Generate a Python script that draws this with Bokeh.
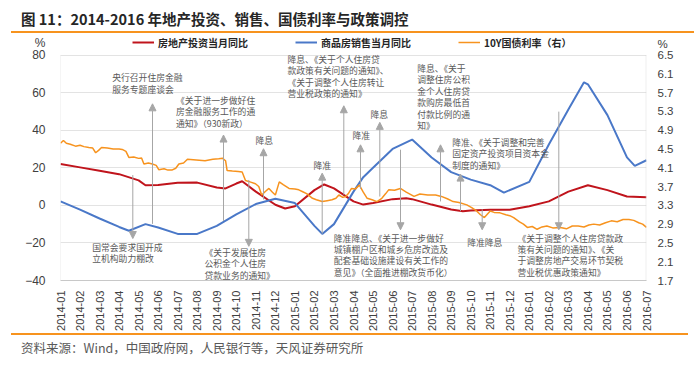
import math
from bokeh.plotting import figure
from bokeh.layouts import column
from bokeh.models import (Range1d, LinearAxis, FixedTicker, PrintfTickFormatter, Label,
                          Arrow, NormalHead, Legend, LegendItem, Div, BoxAnnotation)
from bokeh.embed import file_html
from bokeh.resources import INLINE

# ---------------- data ----------------
month_labels = ["2014-01", "2014-02", "2014-03", "2014-04", "2014-05", "2014-06", "2014-07",
                "2014-08", "2014-09", "2014-10", "2014-11", "2014-12", "2015-01", "2015-02",
                "2015-03", "2015-04", "2015-05", "2015-06", "2015-07", "2015-08", "2015-09",
                "2015-10", "2015-11", "2015-12", "2016-01", "2016-02", "2016-03", "2016-04",
                "2016-05", "2016-06", "2016-07"]

# 房地产投资当月同比 (%), x = months since 2014-01
invest_m = [0, 1, 2, 3, 4, 4.35, 5, 6, 7, 8, 8.45, 9, 9.3, 10, 11, 11.5, 12, 13, 13.5, 14, 15,
            15.5, 16, 17, 17.7, 18, 19, 20, 20.6, 21, 22, 23, 24, 25, 26, 27, 28, 29, 30]
invest_v = [22.0, 20.2, 18.4, 16.6, 13.3, 10.7, 10.8, 12.0, 12.1, 9.5, 9.0, 11.6, 12.8, 7.3, 0.3,
            -1.7, -0.5, 8.1, 11.1, 9.0, 2.1, 0.4, 1.2, 3.3, 3.8, 3.3, 0.4, -2.2, -3.1, -2.8, -2.3,
            -2.3, -0.5, 2.1, 7.3, 10.7, 8.1, 4.7, 4.3]

# 商品房销售当月同比 (%)
sales_m = [0, 1, 2, 3, 3.5, 4.35, 5, 6, 7, 8, 9, 10, 11, 12, 13, 13.4, 14, 15, 15.5, 16, 17, 18,
           19, 20, 21, 22, 22.7, 24, 25, 26, 26.8, 27, 28, 29, 29.4, 30]
sales_v = [2.1, -2.3, -7.0, -11.5, -13.5, -10.0, -11.8, -15.2, -15.2, -10.9, -4.8, 0.7, 3.5, 1.2,
           -10.9, -15.2, -10.0, 7.3, 15.0, 20.0, 30.0, 35.0, 25.5, 17.7, 13.7, 10.7, 6.8, 12.5,
           32.4, 51.0, 65.5, 64.4, 48.0, 25.5, 21.0, 24.0]

# 10Y国债利率 (%), right axis
bond_m = [0.0, 0.15, 0.3, 0.5, 0.77, 1.0, 1.2, 1.45, 1.65, 1.8, 1.95, 2.1, 2.4, 2.7, 3.0, 3.16,
          3.35, 3.5, 3.75, 4.0, 4.15, 4.27, 4.5, 4.7, 4.9, 5.03, 5.3, 5.5, 5.7, 5.9, 6.06, 6.3,
          6.5, 6.8, 7.1, 7.4, 7.8, 8.1, 8.3, 8.45, 8.53, 8.8, 9.1, 9.3, 9.47, 9.7, 9.98, 10.15,
          10.3, 10.5, 10.67, 10.85, 11.0, 11.2, 11.4, 11.7, 12.0, 12.2, 12.4, 12.6, 12.9, 13.1,
          13.4, 13.65, 13.9, 14.1, 14.25, 14.45, 14.6, 14.75, 14.9, 15.1, 15.3, 15.5, 15.7,
          15.95, 16.2, 16.45, 16.65, 16.8, 17.1, 17.4, 17.7, 18.1, 18.4, 18.8, 19.2, 19.5, 19.8,
          20.1, 20.4, 20.8, 21.05, 21.3, 21.5, 21.7, 22.0, 22.2, 22.5, 22.8, 23.0, 23.2, 23.5,
          23.7, 23.9, 24.15, 24.4, 24.65, 24.9, 25.2, 25.6, 25.9, 26.2, 26.5, 26.8, 27.05, 27.3,
          27.6, 27.9, 28.2, 28.5, 28.8, 29.1, 29.35, 29.6, 29.8, 30.0]
bond_v = [4.62, 4.68, 4.62, 4.60, 4.56, 4.58, 4.55, 4.53, 4.52, 4.42, 4.47, 4.53, 4.52, 4.50,
          4.50, 4.49, 4.45, 4.32, 4.33, 4.30, 4.31, 4.18, 4.20, 4.18, 4.15, 4.06, 4.08, 4.05,
          4.05, 4.09, 4.18, 4.20, 4.28, 4.27, 4.26, 4.25, 4.28, 4.29, 4.30, 4.25, 4.04, 4.03,
          4.02, 4.01, 3.83, 3.80, 3.76, 3.70, 3.52, 3.60, 3.66, 3.58, 3.52, 3.80, 3.74, 3.66,
          3.65, 3.63, 3.59, 3.55, 3.45, 3.42, 3.38, 3.40, 3.42, 3.45, 3.52, 3.47, 3.49, 3.56,
          3.66, 3.65, 3.73, 3.58, 3.45, 3.42, 3.38, 3.45, 3.55, 3.63, 3.62, 3.66, 3.58, 3.49,
          3.54, 3.52, 3.52, 3.49, 3.44, 3.38, 3.36, 3.31, 3.25, 3.18, 3.10, 3.04, 3.18, 3.15,
          3.14, 3.10, 3.08, 3.04, 2.95, 2.90, 2.83, 2.85, 2.79, 2.84, 2.86, 2.82, 2.83, 2.80,
          2.86, 2.86, 2.84, 2.88, 2.90, 2.88, 2.93, 2.97, 2.95, 3.00, 3.00, 2.98, 2.93, 2.90,
          2.83]

left_ticks = [-40, -20, 0, 20, 40, 60, 80]
right_ticks = [1.7, 2.1, 2.5, 2.9, 3.3, 3.7, 4.1, 4.5, 4.9, 5.3, 5.7, 6.1, 6.5]
unit_text = "%"

series_names = ["房地产投资当月同比", "商品房销售当月同比", "10Y国债利率（右）"]
title_text = "图 11：2014-2016 年地产投资、销售、国债利率与政策调控"
source_text = "资料来源：Wind，中国政府网，人民银行等，天风证券研究所"

RED = "#C0141C"
BLUE = "#4A78C8"
ORANGE = "#F7931E"
GRAY_TXT = "#595959"
ARROW_C = "#A6A6A6"
AXIS_C = "#C8C8C8"
CJK = "Noto Sans CJK SC"

# ---------------- header / footer ----------------
title_div = Div(
    text=(f'<div style="position:relative;width:683px;height:33px;margin-left:11px;'
          f'border-bottom:2px solid {ORANGE};">'
          f'<span style="position:absolute;left:10px;top:10px;white-space:nowrap;'
          f'font-family:\'{CJK}\';font-weight:bold;font-size:14.5px;line-height:18px;'
          f'color:#262626;">{title_text}</span></div>'),
    width=700, height=35, margin=(0, 0, 0, 0))

source_div = Div(
    text=(f'<div style="position:relative;width:677px;height:31px;margin-left:11px;'
          f'border-top:2px solid {ORANGE};">'
          f'<span style="position:absolute;left:10px;top:5px;white-space:nowrap;'
          f'font-family:\'{CJK}\';font-size:12.5px;line-height:16px;'
          f'color:{GRAY_TXT};">{source_text}</span></div>'),
    width=700, height=33, margin=(0, 0, 0, 0))

# ---------------- figure ----------------
# page-pixel -> data helpers (left-axis values: 0 at page y 209, 231 px per 120 units;
# months: 2014-01 at page x 60, 586 px per 30 months)
def dx(xp):
    return (xp - 60) / (586 / 30)

def dy(yp):
    return (209 - yp) / (231 / 120)

def dy2(yp):
    return 3.3 + (209 - yp) / (231 / 4.8)

# frame spans page y 35..286 so the legend can sit inside it above the 80 line
p = figure(width=700, height=298, output_backend="svg", toolbar_location=None,
           x_range=Range1d(0, 30), y_range=Range1d(-40, dy(35)),
           min_border_left=60, min_border_right=54, min_border_top=0, min_border_bottom=47,
           margin=(0, 0, 0, 0))
p.title.visible = False
p.outline_line_color = None
p.background_fill_color = "white"
p.border_fill_color = "white"
p.extra_y_ranges = {"y2": Range1d(1.7, dy2(35))}

# axes
p.xaxis.ticker = FixedTicker(ticks=list(range(len(month_labels))))
p.xaxis.major_label_overrides = {i: s for i, s in enumerate(month_labels)}
p.xaxis.major_label_orientation = math.pi / 2
p.xaxis.major_label_text_font = "Liberation Sans"
p.xaxis.major_label_text_font_size = "11px"
p.xaxis.major_label_text_color = "#404040"
p.xaxis.axis_line_color = AXIS_C
p.xaxis.major_tick_line_color = None
p.xaxis.minor_tick_line_color = None
p.xaxis.major_label_standoff = 4

pct_left_pos = dy(43)
p.yaxis.ticker = FixedTicker(ticks=left_ticks + [pct_left_pos])
p.yaxis.major_label_overrides = {pct_left_pos: unit_text}
p.yaxis.major_label_text_font = "Liberation Sans"
p.yaxis.major_label_text_font_size = "12px"
p.yaxis.major_label_text_color = "#404040"
p.yaxis.axis_line_color = None
p.yaxis.major_tick_line_color = None
p.yaxis.minor_tick_line_color = None
p.yaxis.major_label_standoff = 9

pct_right_pos = dy2(44)
ax2 = LinearAxis(y_range_name="y2", ticker=FixedTicker(ticks=right_ticks + [pct_right_pos]),
                 formatter=PrintfTickFormatter(format="%.1f"))
ax2.major_label_overrides = {pct_right_pos: unit_text}
ax2.major_label_text_font = "Liberation Sans"
ax2.major_label_text_font_size = "11.5px"
ax2.major_label_text_color = "#404040"
ax2.axis_line_color = None
ax2.major_tick_line_color = None
ax2.minor_tick_line_color = None
ax2.major_label_standoff = 5
p.add_layout(ax2, "right")

# axis spines limited to the -40..80 span
p.add_layout(BoxAnnotation(left=0, right=0, bottom=-40, top=80, fill_alpha=0,
                           line_color="#D9D9D9", line_width=1))
p.add_layout(BoxAnnotation(left=30, right=30, bottom=-40, top=80, fill_alpha=0,
                           line_color=AXIS_C, line_width=2))

p.xgrid.grid_line_color = None
p.ygrid.ticker = FixedTicker(ticks=left_ticks)
p.ygrid.grid_line_color = "#E3E3E3"

# ---------------- series ----------------
r_inv = p.line(invest_m, invest_v, line_color=RED, line_width=2)
r_sal = p.line(sales_m, sales_v, line_color=BLUE, line_width=2)
r_bond = p.line(bond_m, bond_v, line_color=ORANGE, line_width=1.5, y_range_name="y2")

# ---------------- legend (inside the frame, above the 80 line) ----------------
legend = Legend(items=[LegendItem(label=series_names[0], renderers=[r_inv]),
                       LegendItem(label=series_names[1], renderers=[r_sal]),
                       LegendItem(label=series_names[2], renderers=[r_bond])],
                location=(72, 229), orientation="horizontal",
                glyph_width=22, glyph_height=18, label_height=18, label_standoff=4,
                padding=0, margin=0, spacing=47,
                border_line_color=None, background_fill_alpha=0,
                label_text_font=CJK, label_text_font_size="10px",
                label_text_font_style="bold", label_text_color="#262626")
p.add_layout(legend)

def add_label(xp, yp, text, size="8.8px", color=GRAY_TXT, align="left", font=CJK):
    p.add_layout(Label(x=dx(xp), y=dy(yp), text=text, text_font=font, text_font_size=size,
                       text_color=color, text_align=align, text_baseline="middle"))

# ---------------- policy annotations ----------------
notes = [
    (111.7, [77.7, 90.0], ["央行召开住房金融", "服务专题座谈会"]),
    (175.5, [101.7, 113.3, 124.9], ["《关于进一步做好住", "房金融服务工作的通", "通知》（930新政）"]),
    (255.0, [142.7], ["降息"]),
    (287.0, [59.3, 71.0, 82.7, 94.3], ["降息、《关于个人住房贷", "款政策有关问题的通知》、",
                                       "《关于调整个人住房转让", "营业税政策的通知》"]),
    (313.0, [167.7], ["降准"]),
    (352.0, [137.5], ["降准"]),
    (370.0, [116.0], ["降息"]),
    (416.7, [68.5, 80.3, 92.1, 103.9, 115.7, 127.5],
     ["降息、《关于", "调整住房公积", "金个人住房贷", "款购房最低首", "付款比例的通", "知》"]),
    (451.7, [144.3, 156.1, 167.9], ["降准、《关于调整和完善", "固定资产投资项目资本金", "制度的通知》"]),
    (91.7, [251.7, 263.3], ["国常会要求国开成", "立机构助力棚改"]),
    (204.0, [257.5, 269.0, 280.5], ["《关于发展住房", "公积金个人住房", "贷款业务的通知》"]),
    (333.3, [242.7, 254.2, 265.8, 277.3], ["降准降息、《关于进一步做好", "城镇棚户区和城乡危房改造及",
                                           "配套基础设施建设有关工作的", "意见》（全面推进棚改货币化）"]),
    (466.7, [246.7], ["降准降息"]),
    (517.0, [242.7, 254.2, 265.8, 277.3], ["《关于调整个人住房贷款政", "策有关问题的通知》、《关",
                                           "于调整房地产交易环节契税", "营业税优惠政策通知》"]),
]
for xp, ys, lines in notes:
    for yp, t in zip(ys, lines):
        add_label(xp, yp, t)

# arrows: (x on page, start y on page, tip y on page)
arrows = [
    (152.0, 228, 105), (223.0, 225, 137), (263.0, 203, 151), (321.7, 238, 176),
    (343.3, 198, 107), (360.0, 192, 147), (379.3, 200, 124), (440.0, 205, 147),
    (460.0, 215, 177),
    (132.3, 178, 243), (248.3, 183, 251), (400.0, 152, 234), (481.7, 213, 234),
    (558.3, 113, 234),
]
for xp, y0, y1 in arrows:
    p.add_layout(Arrow(end=NormalHead(size=7, fill_color=ARROW_C, line_color=ARROW_C),
                       x_start=dx(xp), y_start=dy(y0), x_end=dx(xp), y_end=dy(y1),
                       line_color=ARROW_C, line_width=1))

layout = column(title_div, p, source_div, spacing=0, margin=(0, 0, 0, 0))
open("out.html", "w").write(file_html(layout, INLINE))
